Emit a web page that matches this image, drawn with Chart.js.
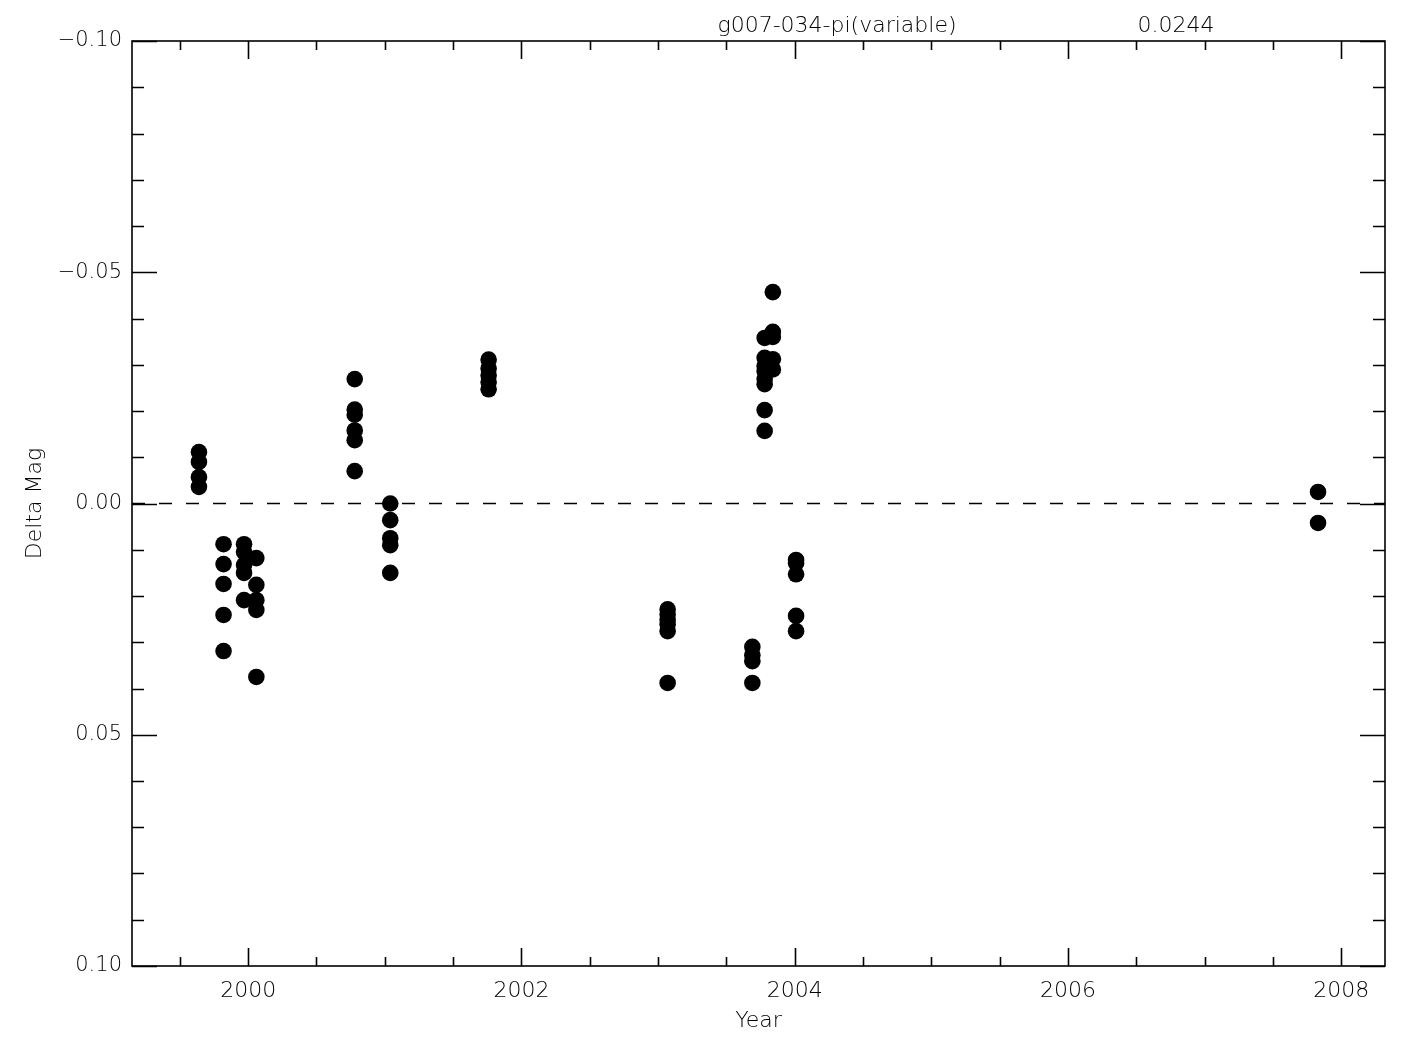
<!DOCTYPE html>
<html>
<head>
<meta charset="utf-8">
<script src="https://cdn.jsdelivr.net/npm/chart.js@4/dist/chart.umd.min.js"></script>
<style>
  html, body { margin: 0; padding: 0; background: #ffffff; }
  #wrap { width: 1425px; height: 1050px; }
</style>
</head>
<body>
<div id="wrap"><canvas id="c" width="1425" height="1050"></canvas></div>
<script>
// ---- data ----
const starName = "g007-034-pi(variable)";
const rmsLabel = "0.0244";
const xTitle = "Year";
const yTitle = "Delta Mag";

const obsYear = [
  1999.64, 1999.64, 1999.64, 1999.64,
  1999.82, 1999.82, 1999.82, 1999.82, 1999.82,
  1999.97, 1999.97, 1999.97, 1999.97, 1999.97,
  2000.06, 2000.06, 2000.06, 2000.06, 2000.06,
  2000.78, 2000.78, 2000.78, 2000.78, 2000.78, 2000.78,
  2001.04, 2001.04, 2001.04, 2001.04, 2001.04,
  2001.76, 2001.76, 2001.76, 2001.76, 2001.76,
  2003.07, 2003.07, 2003.07, 2003.07, 2003.07, 2003.07,
  2003.69, 2003.69, 2003.69, 2003.69,
  2003.78, 2003.78, 2003.78, 2003.78, 2003.78, 2003.78, 2003.78, 2003.78,
  2003.84, 2003.84, 2003.84, 2003.84, 2003.84,
  2004.01, 2004.01, 2004.01, 2004.01, 2004.01,
  2007.83, 2007.83
];
const deltaMag = [
  -0.0111, -0.0090, -0.0057, -0.0036,
  0.0088, 0.0131, 0.0174, 0.0241, 0.0319,
  0.0088, 0.0105, 0.0133, 0.0150, 0.0209,
  0.0118, 0.0176, 0.0209, 0.0230, 0.0375,
  -0.0269, -0.0203, -0.0192, -0.0158, -0.0137, -0.0070,
  0.0000, 0.0036, 0.0075, 0.0090, 0.0150,
  -0.0311, -0.0292, -0.0277, -0.0262, -0.0247,
  0.0229, 0.0240, 0.0251, 0.0261, 0.0276, 0.0388,
  0.0310, 0.0328, 0.0341, 0.0388,
  -0.0358, -0.0315, -0.0297, -0.0286, -0.0269, -0.0258, -0.0202, -0.0157,
  -0.0457, -0.0371, -0.0360, -0.0312, -0.0290,
  0.0122, 0.0129, 0.0153, 0.0243, 0.0276,
  -0.0025, 0.0042
];

const xRange = [1999.15, 2008.32];
const yRange = [-0.10, 0.10];
const xMajorTicks = [2000, 2002, 2004, 2006, 2008];
const xMinorTicks = [1999.5, 2000.5, 2001, 2001.5, 2002.5, 2003, 2003.5, 2004.5, 2005, 2005.5, 2006.5, 2007, 2007.5];
const yMajorTicks = [-0.10, -0.05, 0.00, 0.05, 0.10];
const yMinorTicks = [-0.09, -0.08, -0.07, -0.06, -0.04, -0.03, -0.02, -0.01, 0.01, 0.02, 0.03, 0.04, 0.06, 0.07, 0.08, 0.09];
const zeroLine = [0, 0];

// ---- chart ----
const FONT = "'DejaVu Sans', 'Liberation Sans', sans-serif";
const points = obsYear.map((x, i) => ({ x: x, y: deltaMag[i] }));

const framePlugin = {
  id: 'idlFrame',
  afterDraw(chart) {
    const ctx = chart.ctx;
    const a = chart.chartArea;
    const xs = chart.scales.x, ys = chart.scales.y;
    ctx.save();
    ctx.strokeStyle = '#000';
    ctx.lineWidth = 1.6;
    ctx.strokeRect(a.left, a.top, a.right - a.left, a.bottom - a.top);
    ctx.beginPath();
    const xt = (vals, len) => vals.forEach(v => {
      const px = Math.round(xs.getPixelForValue(v)) + 0.5;
      ctx.moveTo(px, a.bottom); ctx.lineTo(px, a.bottom - len);
      ctx.moveTo(px, a.top); ctx.lineTo(px, a.top + len);
    });
    const yt = (vals, len) => vals.forEach(v => {
      const py = Math.round(ys.getPixelForValue(v)) + 0.5;
      ctx.moveTo(a.left, py); ctx.lineTo(a.left + len, py);
      ctx.moveTo(a.right, py); ctx.lineTo(a.right - len, py);
    });
    xt(xMajorTicks, 18); xt(xMinorTicks, 9);
    yt(yMajorTicks, 25); yt(yMinorTicks, 12);
    ctx.stroke();

    ctx.fillStyle = '#000';
    ctx.font = '300 22px ' + FONT;
    ctx.textAlign = 'center';
    ctx.textBaseline = 'alphabetic';
    ctx.fillText(starName, 837, 32);
    ctx.fillText(rmsLabel, 1176, 32);
    ctx.fillText(xTitle, (a.left + a.right) / 2, 1027);
    ctx.save();
    ctx.translate(41, (a.top + a.bottom) / 2);
    ctx.rotate(-Math.PI / 2);
    ctx.fillText(yTitle, 0, 0);
    ctx.restore();
    ctx.restore();
  }
};

new Chart(document.getElementById('c'), {
  type: 'scatter',
  data: {
    datasets: [
      {
        type: 'scatter',
        data: points,
        backgroundColor: '#000',
        borderColor: '#000',
        borderWidth: 0,
        pointRadius: 8.3,
        pointHoverRadius: 8.3,
        order: 1
      },
      {
        type: 'line',
        data: xRange.map((x, i) => ({ x: x, y: zeroLine[i] })),
        borderColor: '#000',
        borderWidth: 1.4,
        borderDash: [13, 14],
        pointRadius: 0,
        fill: false,
        order: 2
      }
    ]
  },
  options: {
    responsive: false,
    animation: false,
    events: [],
    layout: { padding: { left: 0, top: 41, right: 40, bottom: 0 } },
    plugins: { legend: { display: false }, tooltip: { enabled: false }, title: { display: false } },
    scales: {
      x: {
        type: 'linear',
        min: xRange[0],
        max: xRange[1],
        afterBuildTicks: s => { s.ticks = xMajorTicks.map(v => ({ value: v })); },
        afterFit: s => { s.height = 84; },
        grid: { display: false, drawTicks: false },
        border: { display: false },
        ticks: {
          color: '#000',
          padding: 12,
          maxRotation: 0,
          autoSkip: false,
          font: { family: FONT, size: 22, weight: 300 },
          callback: v => String(v)
        }
      },
      y: {
        type: 'linear',
        reverse: true,
        min: yRange[0],
        max: yRange[1],
        afterBuildTicks: s => { s.ticks = yMajorTicks.map(v => ({ value: v })); },
        afterFit: s => { s.width = 132; },
        grid: { display: false, drawTicks: false },
        border: { display: false },
        ticks: {
          color: '#000',
          padding: 10,
          autoSkip: false,
          font: { family: FONT, size: 21, weight: 300 },
          callback: v => (v < 0 ? '\u2212' : '') + Math.abs(v).toFixed(2)
        }
      }
    }
  },
  plugins: [framePlugin]
});
</script>
</body>
</html>
